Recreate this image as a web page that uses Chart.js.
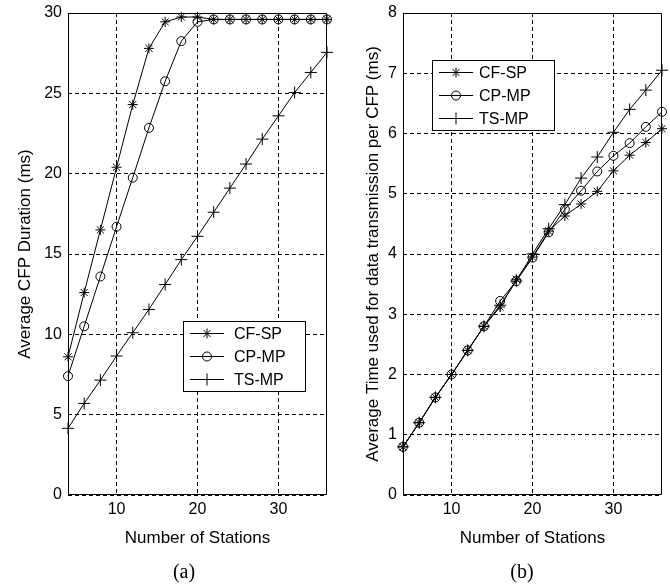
<!DOCTYPE html>
<html>
<head>
<meta charset="utf-8">
<script src="https://cdn.jsdelivr.net/npm/chart.js@4"></script>
<style>
  body { margin: 0; background: #fff; }
  #wrap { position: relative; width: 670px; height: 585px; }
  canvas { position: absolute; top: 0; }
  .sub { position: absolute; top: 560px; font: 20px "Liberation Serif", serif; color: #000; width: 60px; text-align: center; }
</style>
</head>
<body>
<div id="wrap">
  <canvas id="chart-a" width="335" height="585" style="left:0"></canvas>
  <canvas id="chart-b" width="335" height="585" style="left:335px"></canvas>
  <div class="sub" style="left:154px">(a)</div>
  <div class="sub" style="left:492px">(b)</div>
</div>
<script>
var stations = [4, 6, 8, 10, 12, 14, 16, 18, 20, 22, 24, 26, 28, 30, 32, 34, 36];
var xTicks = [10, 20, 30];
var seriesNames = ["CF-SP", "CP-MP", "TS-MP"];

// (a) average CFP duration (ms)
var cfspDuration = [8.6, 12.6, 16.5, 20.4, 24.3, 27.8, 29.45, 29.75, 29.75, 29.6, 29.6, 29.6, 29.6, 29.6, 29.6, 29.6, 29.6];
var cpmpDuration = [7.4, 10.5, 13.6, 16.7, 19.75, 22.85, 25.75, 28.25, 29.45, 29.6, 29.6, 29.6, 29.6, 29.6, 29.6, 29.6, 29.6];
var tsmpDuration = [4.15, 5.7, 7.15, 8.65, 10.1, 11.55, 13.1, 14.65, 16.1, 17.6, 19.1, 20.6, 22.15, 23.6, 25.05, 26.3, 27.55];

// (b) average time used for data transmission per CFP (ms)
var cfspTime = [0.8, 1.2, 1.62, 2.0, 2.4, 2.8, 3.12, 3.58, 3.95, 4.38, 4.63, 4.83, 5.04, 5.38, 5.64, 5.85, 6.08];
var cpmpTime = [0.8, 1.2, 1.62, 2.0, 2.4, 2.8, 3.22, 3.55, 3.94, 4.36, 4.74, 5.05, 5.37, 5.63, 5.84, 6.11, 6.36];
var tsmpTime = [0.8, 1.2, 1.62, 2.0, 2.4, 2.8, 3.15, 3.55, 4.0, 4.42, 4.82, 5.26, 5.61, 6.02, 6.4, 6.72, 7.05];

var markers = [
  { style: "star", radius: 5 },
  { style: "circle", radius: 4.5 },
  { style: "cross", radius: 6 }
];

function pairs(ys) {
  var out = [];
  for (var i = 0; i < stations.length; i++) out.push({ x: stations[i], y: ys[i] });
  return out;
}

function makeDatasets(lists) {
  var sets = [];
  for (var i = 0; i < lists.length; i++) {
    sets.push({
      label: seriesNames[i],
      data: pairs(lists[i]),
      borderColor: "#000",
      borderWidth: 1,
      pointStyle: markers[i].style,
      pointRadius: markers[i].radius,
      pointBorderColor: "#000",
      pointBackgroundColor: "rgba(0,0,0,0)",
      pointBorderWidth: 1,
      tension: 0,
      clip: false
    });
  }
  return sets;
}

function drawMarker(ctx, style, r, x, y) {
  ctx.beginPath();
  if (style === "circle") {
    ctx.arc(x, y, r, 0, Math.PI * 2);
  } else {
    ctx.moveTo(x - r, y); ctx.lineTo(x + r, y);
    ctx.moveTo(x, y - r); ctx.lineTo(x, y + r);
    if (style === "star") {
      var d = r * Math.SQRT1_2;
      ctx.moveTo(x - d, y - d); ctx.lineTo(x + d, y + d);
      ctx.moveTo(x - d, y + d); ctx.lineTo(x + d, y - d);
    }
  }
  ctx.stroke();
}

// solid frame round the plot area plus the boxed legend
var boxPlugin = {
  id: "boxLegend",
  afterDraw: function (chart, args, opts) {
    var ctx = chart.ctx;
    var a = chart.chartArea;
    ctx.save();
    ctx.strokeStyle = "#000";
    ctx.lineWidth = 1;
    ctx.setLineDash([]);
    var l = Math.round(a.left) + 0.5, t = Math.round(a.top) + 0.5;
    var r = Math.round(a.right) - 0.5, b = Math.round(a.bottom) - 0.5;
    ctx.beginPath();
    ctx.moveTo(l, t); ctx.lineTo(r, t); ctx.lineTo(r, b); ctx.lineTo(l, b); ctx.closePath();
    ctx.stroke();

    var bx = opts.x, by = opts.y;
    ctx.fillStyle = "#fff";
    ctx.fillRect(bx, by, 122, 70);
    ctx.strokeRect(bx + 0.5, by + 0.5, 122, 70);
    ctx.font = "16px 'Liberation Sans', Arial, sans-serif";
    ctx.textBaseline = "middle";
    ctx.textAlign = "left";
    for (var i = 0; i < seriesNames.length; i++) {
      var ry = by + 12.5 + i * 23;
      ctx.beginPath();
      ctx.moveTo(bx + 7, ry);
      ctx.lineTo(bx + 41, ry);
      ctx.stroke();
      drawMarker(ctx, markers[i].style, markers[i].radius, bx + 24, ry);
      ctx.fillStyle = "#000";
      ctx.fillText(seriesNames[i], bx + opts.textOffset, ry + 1);
    }
    ctx.restore();
  }
};

function makeChart(id, lists, yMax, yStep, yTitle, titlePad, legendPos) {
  return new Chart(document.getElementById(id), {
    type: "line",
    data: { datasets: makeDatasets(lists) },
    plugins: [boxPlugin],
    options: {
      responsive: false,
      animation: false,
      devicePixelRatio: 1,
      layout: { padding: { top: 13, right: 8, left: 0, bottom: 0 } },
      plugins: {
        legend: { display: false },
        tooltip: { enabled: false },
        boxLegend: legendPos
      },
      scales: {
        x: {
          type: "linear",
          min: 4,
          max: 36,
          afterBuildTicks: function (axis) {
            axis.ticks = xTicks.map(function (v) { return { value: v }; });
          },
          afterFit: function (axis) { axis.height = 90; },
          grid: { color: "#000", lineWidth: 1, drawTicks: false },
          border: { display: false, dash: [4, 3] },
          ticks: { color: "#000", padding: 5, maxRotation: 0, font: { family: "Liberation Sans", size: 16 } },
          title: {
            display: true,
            text: "Number of Stations",
            color: "#000",
            font: { family: "Liberation Sans", size: 17 },
            padding: { top: 0, bottom: 36 }
          }
        },
        y: {
          min: 0,
          max: yMax,
          afterFit: function (axis) {
            axis.width = 68;
            axis.paddingTop = 0;
            axis.paddingBottom = 0;
          },
          grid: { color: "#000", lineWidth: 1, drawTicks: false },
          border: { display: false, dash: [4, 3] },
          ticks: { color: "#000", padding: 6, stepSize: yStep, font: { family: "Liberation Sans", size: 16 } },
          title: {
            display: true,
            text: yTitle,
            color: "#000",
            font: { family: "Liberation Sans", size: 17 },
            padding: { top: titlePad, bottom: 0 }
          }
        }
      }
    }
  });
}

makeChart("chart-a", [cfspDuration, cpmpDuration, tsmpDuration], 30, 5,
  "Average CFP Duration (ms)", 15, { x: 183, y: 321, textOffset: 51 });
makeChart("chart-b", [cfspTime, cpmpTime, tsmpTime], 8, 1,
  "Average Time used for data transmission per CFP (ms)", 28, { x: 97, y: 60, textOffset: 47 });
</script>
</body>
</html>
